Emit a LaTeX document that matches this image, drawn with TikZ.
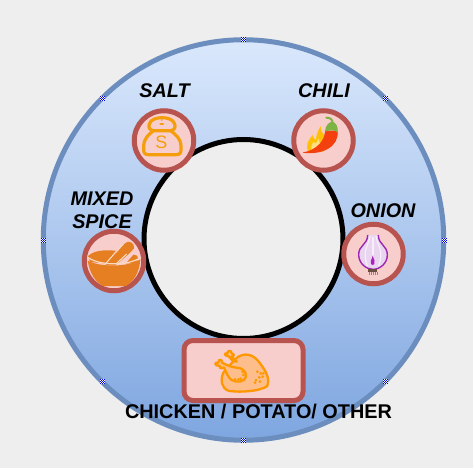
\documentclass[tikz,border=0pt]{standalone}
\usepackage{fontspec}
\setmainfont{Liberation Sans}
\definecolor{bgc}{HTML}{EEEEEE}
\definecolor{ringtop}{HTML}{DAE8FC}
\definecolor{ringbot}{HTML}{7EA6E0}
\definecolor{ringline}{HTML}{6C8EBF}
\definecolor{pinkf}{HTML}{F8CECC}
\definecolor{pinkl}{HTML}{B85450}
\definecolor{saltc}{HTML}{F59E0B}
\definecolor{chilir}{HTML}{F4400F}
\definecolor{chilig}{HTML}{7CB342}
\definecolor{flamey}{HTML}{FFC107}
\definecolor{flamel}{HTML}{FFE082}
\definecolor{bowlc}{HTML}{E67E22}
\definecolor{bowll}{HTML}{FBD9BF}
\definecolor{onionl}{HTML}{9C27B0}
\definecolor{onionf}{HTML}{E9D5F0}
\definecolor{onionw}{HTML}{F6EEF9}
\definecolor{rootc}{HTML}{6D4C41}
\definecolor{chickl}{HTML}{FF9800}
\definecolor{chickf}{HTML}{FDBE8C}
\tikzset{
  x=1pt,y=-1pt,
  itemdisc/.style={circle,draw=pinkl,fill=pinkf,line width=5pt,minimum size=59.5pt,inner sep=0pt},
  itemlabel/.style={font=\fontsize{19.8}{22.5}\selectfont\bfseries\itshape,text=black,align=center,inner sep=0pt},
  baselabel/.style={font=\fontsize{19.85}{22}\selectfont\bfseries,text=black,inner sep=0pt},
  iconarea/.style={xscale=1/3,yscale=1/3},
}
\newcommand{\handlemark}[2]{%
  \fill[white] (#1-2.5,#2-2.5) rectangle (#1+2.5,#2+2.5);
  \foreach \i/\j in {0/0,2/0,4/0,1/1,3/1,0/2,2/2,4/2,1/3,3/3,0/4,2/4,4/4}{
    \fill[blue!85!black] (#1-2.5+\i,#2-2.5+\j) rectangle (#1-1.5+\i,#2-1.5+\j);}%
}
\begin{document}
\begin{tikzpicture}
\useasboundingbox (0,0) rectangle (473,468);
\fill[bgc] (0,0) rectangle (473,468);
% outer ring
\node[circle,minimum size=400.5pt,inner sep=0pt,draw=ringline,line width=5pt,top color=ringtop,bottom color=ringbot] (ring) at (243.5,240) {};
% hole
\node[circle,minimum size=199pt,inner sep=0pt,draw=black,line width=5pt,fill=bgc] (hole) at (243.5,239) {};
% handles
\handlemark{243.5}{40}\handlemark{102}{99}\handlemark{385}{99}
\handlemark{43}{240}\handlemark{444}{240}
\handlemark{102}{381}\handlemark{385}{381}\handlemark{243.5}{440}
% discs
\node[itemdisc] (salt) at (164,140.5) {};
\node[itemdisc] (chili) at (323.5,140.5) {};
\node[itemdisc] (spice) at (114,261) {};
\node[itemdisc] (onion) at (373.5,254) {};
\node[draw=pinkl,fill=pinkf,line width=5pt,rounded corners=9pt,minimum width=119pt,minimum height=60pt,inner sep=0pt] (base) at (243.5,370.5) {};
% salt icon
\begin{scope}[shift={(120,70)},iconarea]
\draw[saltc,line width=3.2pt,line join=round]
  (100,182) .. controls (85,195) and (72,205) .. (71,228) -- (71,240) .. controls (71,250) and (76,254) .. (86,254) -- (168,254) .. controls (178,254) and (183,250) .. (183,240) -- (183,228) .. controls (182,205) and (168,195) .. (152,182);
\draw[saltc,line width=3.2pt,line join=round]
  (100,182) .. controls (88,180) and (85,172) .. (88,162) .. controls (92,148) and (110,143) .. (126,143) .. controls (142,143) and (160,148) .. (164,162) .. controls (167,172) and (164,180) .. (152,182) -- cycle;
\fill[saltc] (125,162) ellipse (7 and 3);
\fill[saltc] (125,150) circle (2.5);
\end{scope}
\node[text=saltc,font=\fontsize{18}{18}\selectfont,inner sep=0pt] (saltS) at (161.5,142) {S};
% chili icon
\begin{scope}[shift={(280,70)},iconarea]
\fill[flamey] (85,245) .. controls (75,225) and (85,210) .. (98,195) .. controls (100,205) and (104,208) .. (108,210) .. controls (108,195) and (115,180) .. (122,168) .. controls (122,190) and (135,195) .. (138,205) -- (130,245) -- cycle;
\fill[flamel] (95,240) .. controls (92,228) and (96,222) .. (101,215) .. controls (104,222) and (110,224) .. (115,205) .. controls (118,215) and (122,222) .. (120,235) -- cycle;
\fill[chilir] (135,182) .. controls (135,212) and (110,240) .. (67,248) .. controls (125,256) and (178,232) .. (173,182) -- cycle;
\fill[chilig] (135,185) .. controls (135,165) and (150,155) .. (157,155) .. controls (168,158) and (175,170) .. (173,187) .. controls (160,178) and (150,180) .. (135,185) -- cycle;
\draw[chilig,line width=2pt,line cap=round] (139,143) .. controls (150,143) and (158,148) .. (158,160);
\end{scope}
% spice icon
\begin{scope}[shift={(60,180)},iconarea]
\fill[bowlc] (136,256) .. controls (155,235) and (175,212) .. (195,190) .. controls (205,178) and (226,190) .. (222,205) .. controls (205,225) and (185,240) .. (165,256) -- cycle;
\fill[bowlc] (198,250) -- (220,224) .. controls (228,222) and (234,228) .. (234,238) -- (225,250) -- cycle;
\fill[bowlc] (84,228) .. controls (110,205) and (150,212) .. (172,212) -- (150,252) -- (90,246) -- cycle;
\fill[bowlc] (83,242) .. controls (90,285) and (108,305) .. (128,318) -- (198,318) .. controls (220,305) and (238,280) .. (241,238) .. controls (205,262) and (120,262) .. (83,242) -- cycle;
\draw[bowll,line width=1.2pt] (83,232) .. controls (120,258) and (205,258) .. (243,232);
\draw[bowll,line width=1.1pt] (138,250) -- (188,192);
\draw[bowll,line width=1.1pt] (170,250) -- (200,222);
\end{scope}
% onion icon
\begin{scope}[shift={(330,190)},iconarea]
\fill[onionf] (113,135) .. controls (113,165) and (85,165) .. (86,195) .. controls (87,222) and (110,238) .. (129,238) .. controls (150,238) and (172,220) .. (172,195) .. controls (172,165) and (145,165) .. (145,135) -- cycle;
\draw[onionw,line width=1.2pt] (120,138) .. controls (115,170) and (96,180) .. (112,228);
\draw[onionw,line width=1.2pt] (138,138) .. controls (143,170) and (162,180) .. (146,228);
\draw[onionw,line width=1.2pt] (129,140) -- (129,195);
\draw[onionl,line width=1.4pt,line join=round]
  (113,135) .. controls (113,165) and (85,165) .. (86,195) .. controls (87,222) and (110,238) .. (129,238) .. controls (150,238) and (172,220) .. (172,195) .. controls (172,165) and (145,165) .. (145,135);
\fill[onionl!80!magenta] (128,198) .. controls (133,210) and (136,215) .. (133,222) .. controls (130,226) and (126,226) .. (123,222) .. controls (120,215) and (124,210) .. (128,198) -- cycle;
\fill[rootc] (115,238) rectangle (142,245);
\foreach \r in {118,124,130,136,141}{\draw[rootc!70,line width=.5pt] (\r,245) -- (\r,256);}
\end{scope}
% chicken icon
\begin{scope}[shift={(120,330)},iconarea]
\draw[chickl,fill=chickf,line width=2.3pt,line join=round]
  (345,88) .. controls (370,65) and (400,70) .. (420,100) .. controls (440,125) and (450,150) .. (442,168) .. controls (420,185) and (350,188) .. (325,182) .. controls (305,175) and (300,150) .. (310,128) -- cycle;
\draw[chickl,fill=chickf,line width=2.3pt,line join=round]
  (338,92) -- (325,78) .. controls (312,78) and (312,68) .. (322,70) .. controls (322,60) and (335,60) .. (335,70) .. controls (345,72) and (342,82) .. (335,80) -- (350,95) -- cycle;
\draw[chickl,fill=chickf,line width=2.3pt,line join=round]
  (350,113) .. controls (365,112) and (380,125) .. (378,140) .. controls (375,155) and (350,160) .. (335,150) .. controls (325,145) and (318,125) .. (312,112)
  .. controls (302,118) and (295,112) .. (300,108) .. controls (282,108) and (282,95) .. (295,98) .. controls (295,85) and (308,88) .. (306,98) .. controls (320,105) and (335,112) .. (350,113) -- cycle;
\foreach \a/\b in {368/125,370/135,345/148,355/148,362/146,412/125,422/130,428/140,418/142,408/150,420/155,405/158,430/130}{\fill[chickl] (\a,\b) circle (4.5);}
\end{scope}
% labels
\node[itemlabel] (saltl) at (164.5,91) {SALT};
\node[itemlabel] (chilil) at (324,91) {CHILI};
\node[itemlabel] (spicel) at (102,210.5) {MIXED\\SPICE};
\node[itemlabel] (onionl) at (383,211) {ONION};
\node[baselabel] (basel) at (258.5,411.5) {CHICKEN / POTATO/ OTHER};
\end{tikzpicture}
\end{document}
